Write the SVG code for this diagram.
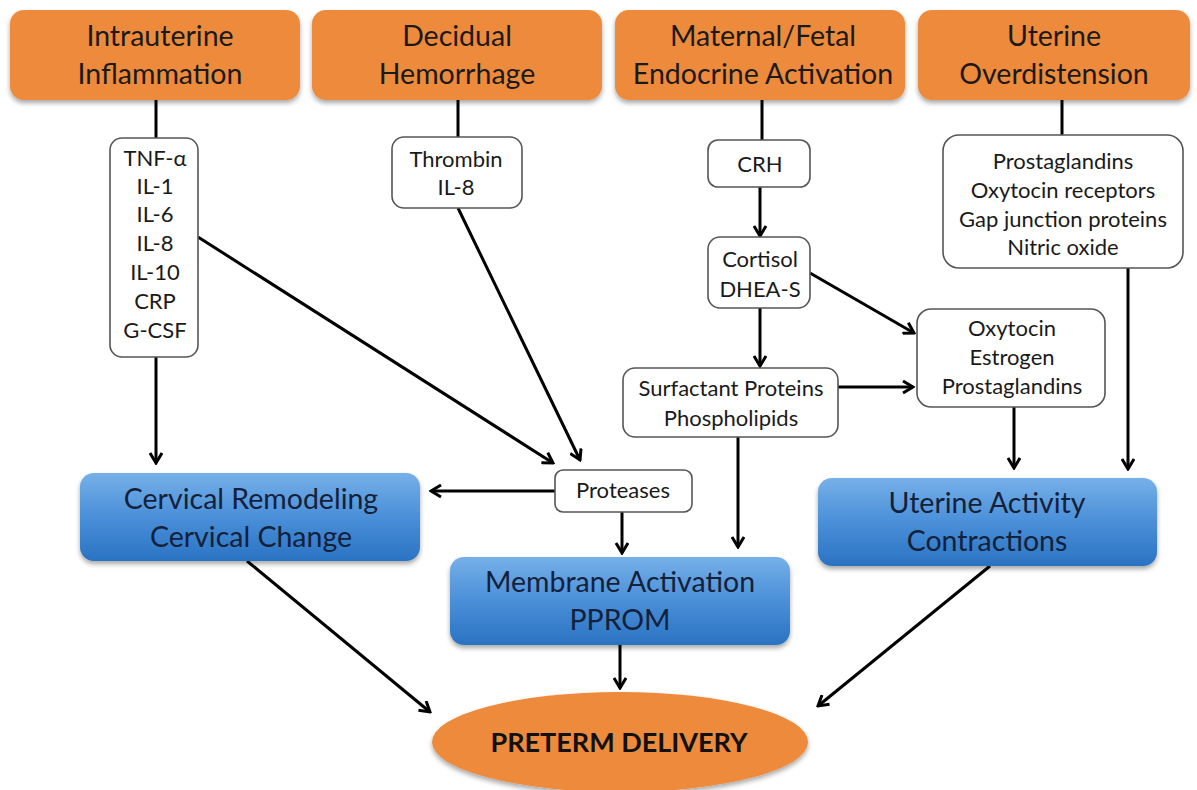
<svg xmlns="http://www.w3.org/2000/svg" width="1197" height="790" viewBox="0 0 1197 790">
<defs>
<linearGradient id="blue" x1="0" y1="0" x2="0" y2="1">
<stop offset="0" stop-color="#76b0e8"/>
<stop offset="0.5" stop-color="#4a8fd8"/>
<stop offset="1" stop-color="#2a73c2"/>
</linearGradient>
<filter id="sh" x="-10%" y="-10%" width="120%" height="130%">
<feGaussianBlur in="SourceAlpha" stdDeviation="2.5"/>
<feOffset dx="0" dy="3" result="b"/>
<feComponentTransfer><feFuncA type="linear" slope="0.35"/></feComponentTransfer>
<feMerge><feMergeNode/><feMergeNode in="SourceGraphic"/></feMerge>
</filter>
<marker id="arr" viewBox="0 0 14 14" refX="12" refY="7" markerWidth="14" markerHeight="14" markerUnits="userSpaceOnUse" orient="auto">
<path d="M2,1 L12,7 L2,13" fill="none" stroke="#000" stroke-width="3" stroke-linejoin="miter"/>
</marker>
</defs>
<style>
text{font-family:Lato,"Open Sans","Liberation Sans",sans-serif;fill:#1a1a1a;text-anchor:middle}
.big{font-size:28.5px}
.sm{font-size:22px}
.orange{fill:#ee8a3a;filter:url(#sh)}
.bluebox{fill:url(#blue);filter:url(#sh)}
.wbox{fill:#fff;stroke:#555;stroke-width:1.6}
.c line,.c path{stroke:#000;stroke-width:3;fill:none}
.a{marker-end:url(#arr)}
.btxt{fill:#14213a}
</style>
<rect width="1197" height="790" fill="#fff"/>

<g class="c" id="connectors">
<line x1="156" y1="100" x2="156" y2="138"/>
<line x1="458" y1="100" x2="458" y2="137"/>
<line x1="762" y1="100" x2="762" y2="140"/>
<line x1="1062" y1="100" x2="1062" y2="135"/>
<line class="a" x1="760" y1="187" x2="760" y2="236"/>
<line class="a" x1="760" y1="308" x2="760" y2="366"/>
<line class="a" x1="810" y1="273" x2="914" y2="333"/>
<line class="a" x1="838" y1="387" x2="913" y2="387"/>
<line class="a" x1="1128" y1="268" x2="1128" y2="469"/>
<line class="a" x1="1014" y1="407" x2="1014" y2="468"/>
<line class="a" x1="156" y1="357" x2="156" y2="463"/>
<line class="a" x1="198" y1="237" x2="553" y2="463"/>
<line class="a" x1="458" y1="208" x2="580" y2="460"/>
<line class="a" x1="555" y1="491" x2="431" y2="491"/>
<line class="a" x1="622" y1="512" x2="622" y2="553"/>
<line class="a" x1="738" y1="437" x2="738" y2="547"/>
<line class="a" x1="620" y1="645" x2="620" y2="688"/>
<line class="a" x1="247" y1="561" x2="430" y2="712"/>
<line class="a" x1="990" y1="566" x2="818" y2="706"/>
</g>

<g id="n-intrauterine"><rect class="orange" x="10" y="10" width="290" height="90" rx="14"/><text class="big" x="160" y="46">Intrauterine</text><text class="big" x="160" y="84">Inflammation</text></g>
<g id="n-decidual"><rect class="orange" x="312" y="10" width="290" height="90" rx="14"/><text class="big" x="457" y="46">Decidual</text><text class="big" x="457" y="84">Hemorrhage</text></g>
<g id="n-endocrine"><rect class="orange" x="615" y="10" width="290" height="90" rx="14"/><text class="big" x="763" y="46">Maternal/Fetal</text><text class="big" x="763" y="84">Endocrine Activation</text></g>
<g id="n-overdistension"><rect class="orange" x="918" y="10" width="272" height="90" rx="14"/><text class="big" x="1054" y="46">Uterine</text><text class="big" x="1054" y="84">Overdistension</text></g>

<g id="n-cytokines"><rect class="wbox" x="110" y="138" width="88" height="219" rx="12"/>
<text class="sm" x="155" y="166">TNF-α</text><text class="sm" x="155" y="194">IL-1</text><text class="sm" x="155" y="222">IL-6</text><text class="sm" x="155" y="251">IL-8</text><text class="sm" x="155" y="280">IL-10</text><text class="sm" x="155" y="309">CRP</text><text class="sm" x="155" y="338">G-CSF</text></g>
<g id="n-thrombin"><rect class="wbox" x="392" y="137" width="130" height="71" rx="12"/><text class="sm" x="456" y="167">Thrombin</text><text class="sm" x="456" y="195">IL-8</text></g>
<g id="n-crh"><rect class="wbox" x="708" y="140" width="102" height="47" rx="10"/><text class="sm" x="760" y="172">CRH</text></g>
<g id="n-cortisol"><rect class="wbox" x="708" y="237" width="102" height="71" rx="12"/><text class="sm" x="760" y="267">Cortisol</text><text class="sm" x="760" y="297">DHEA-S</text></g>
<g id="n-surfactant"><rect class="wbox" x="623" y="368" width="215" height="69" rx="12"/><text class="sm" x="731" y="396">Surfactant Proteins</text><text class="sm" x="731" y="426">Phospholipids</text></g>
<g id="n-oxytocin"><rect class="wbox" x="917" y="309" width="188" height="98" rx="14"/><text class="sm" x="1012" y="336">Oxytocin</text><text class="sm" x="1012" y="365">Estrogen</text><text class="sm" x="1012" y="394">Prostaglandins</text></g>
<g id="n-prostaglandins"><rect class="wbox" x="943" y="135" width="240" height="133" rx="16"/><text class="sm" x="1063" y="169">Prostaglandins</text><text class="sm" x="1063" y="198">Oxytocin receptors</text><text class="sm" x="1063" y="227">Gap junction proteins</text><text class="sm" x="1063" y="255">Nitric oxide</text></g>
<g id="n-proteases"><rect class="wbox" x="555" y="470" width="137" height="42" rx="8"/><text class="sm" x="623" y="498">Proteases</text></g>

<g id="n-cervical"><rect class="bluebox" x="80" y="473" width="340" height="88" rx="14"/><text class="big btxt" x="251" y="509">Cervical Remodeling</text><text class="big btxt" x="251" y="547">Cervical Change</text></g>
<g id="n-membrane"><rect class="bluebox" x="450" y="557" width="340" height="88" rx="14"/><text class="big btxt" x="620" y="592">Membrane Activation</text><text class="big btxt" x="620" y="630">PPROM</text></g>
<g id="n-uterine"><rect class="bluebox" x="818" y="478" width="339" height="88" rx="14"/><text class="big btxt" x="987" y="513">Uterine Activity</text><text class="big btxt" x="987" y="551">Contractions</text></g>

<g id="n-preterm"><ellipse cx="620" cy="742" rx="188" ry="50" fill="#ee8a3a" filter="url(#sh)"/><text x="619" y="752" style="font-size:27px;font-weight:bold;fill:#111">PRETERM DELIVERY</text></g>
</svg>
